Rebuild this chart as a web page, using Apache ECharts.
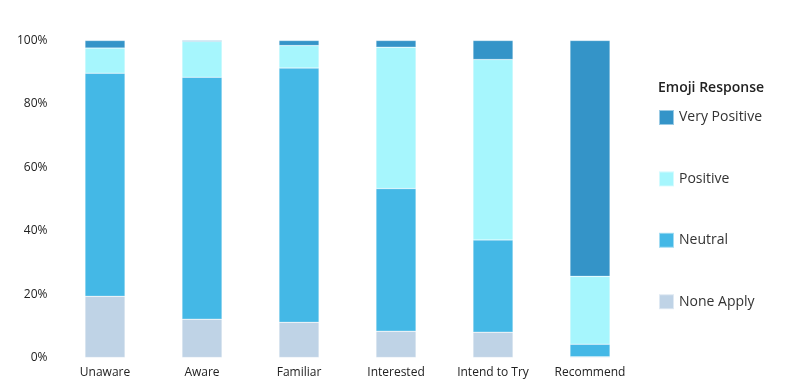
<!DOCTYPE html>
<html><head><meta charset="utf-8">
<script src="https://cdn.jsdelivr.net/npm/echarts@6/dist/echarts.min.js"></script>
<style>html,body{margin:0;padding:0;background:#fff}#c{width:800px;height:385px}</style>
</head><body><div id="c"></div>
<script>
const categories = ["Unaware", "Aware", "Familiar", "Interested", "Intend to Try", "Recommend"];
const noneApply = [19.3, 12.1, 11.1, 8.3, 8.0, 0.2];
const neutral = [70.4, 76.3, 80.2, 45.0, 29.1, 4.0];
const positive = [7.9, 11.3, 7.1, 44.6, 56.9, 21.4];
const veryPositive = [2.4, 0.3, 1.6, 2.1, 6.0, 74.4];
const seriesNames = ["None Apply", "Neutral", "Positive", "Very Positive"];
const legendOrder = ["Very Positive", "Positive", "Neutral", "None Apply"];
const yTicks = [0, 20, 40, 60, 80, 100];
const colors = {"None Apply": "#bfd3e6", "Neutral": "#44b8e6", "Positive": "#a6f6fd", "Very Positive": "#3494c8"};
const values = [noneApply, neutral, positive, veryPositive];
const font = "'Open Sans', 'Noto Sans', sans-serif";
const chart = echarts.init(document.getElementById('c'));
chart.setOption({
  animation: false,
  grid: {left: 56.5, right: 161.5, top: 40.5, bottom: 27.5, containLabel: false},
  title: {text: "Emoji Response", left: 653, top: 76, textStyle: {fontFamily: font, fontSize: 14, fontWeight: 600, color: "#222"}},
  legend: {
    orient: 'vertical', left: 653, top: 104, itemWidth: 15, itemHeight: 15, itemGap: 44.4,
    data: legendOrder, icon: 'rect',
    textStyle: {fontFamily: font, fontSize: 14, color: "#333"}
  },
  xAxis: {
    type: 'category', data: categories,
    axisLine: {show: false}, axisTick: {show: false},
    axisLabel: {fontFamily: font, fontSize: 12, color: "#222", margin: 9}
  },
  yAxis: {
    type: 'value', min: 0, max: 100, interval: 20,
    splitLine: {show: false}, axisLine: {show: false}, axisTick: {show: false},
    axisLabel: {fontFamily: font, fontSize: 12, color: "#222", margin: 9, formatter: v => yTicks.includes(v) ? v + '%' : ''}
  },
  series: seriesNames.map((n, i) => ({
    name: n, type: 'bar', stack: 'total', barWidth: 40, data: values[i],
    itemStyle: {color: colors[n], borderColor: 'rgba(255,255,255,0.5)', borderWidth: 0.5}
  }))
});
</script></body></html>
